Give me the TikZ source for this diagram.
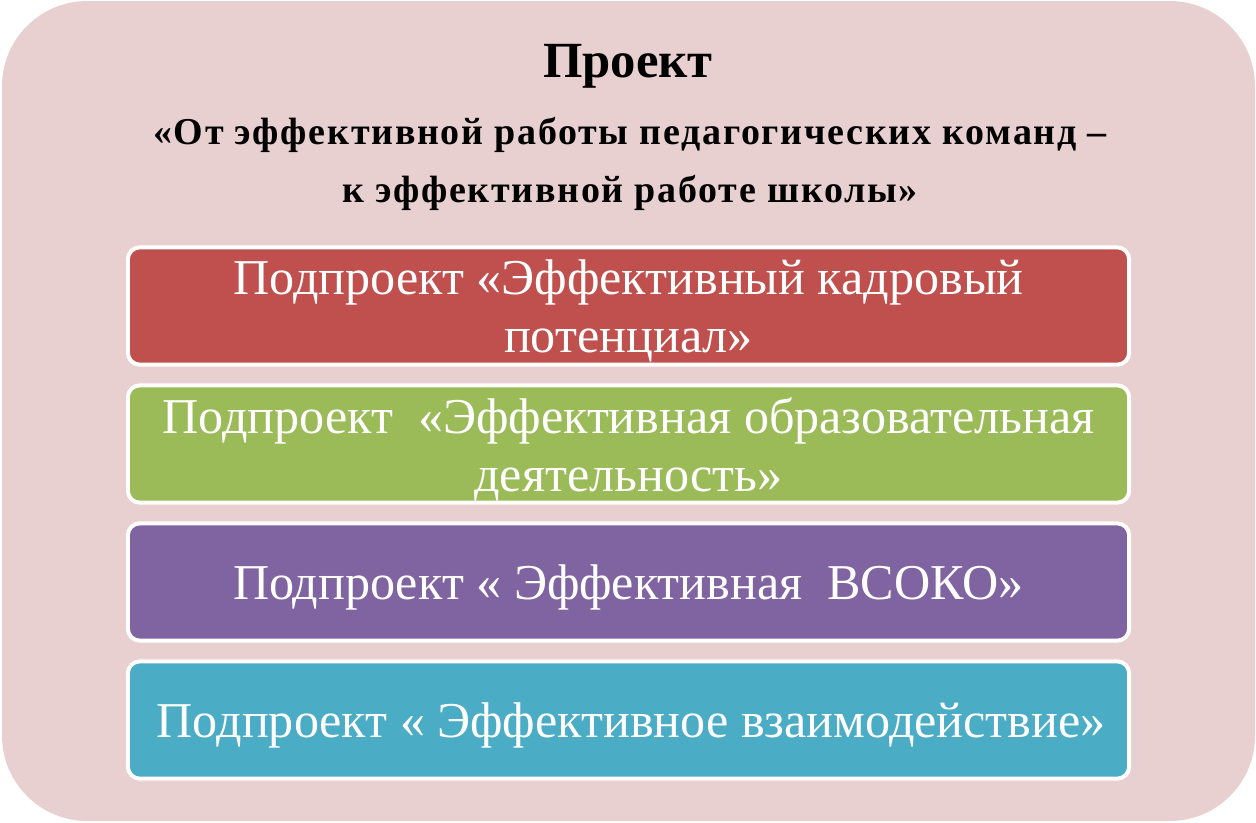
\documentclass[tikz,border=0pt]{standalone}
\usepackage{fontspec}
\setmainfont{Liberation Serif}
\newfontfamily\subtitlefont[LetterSpace=4.5]{Liberation Serif}
\definecolor{bgpink}{HTML}{E8CFD0}
\definecolor{subred}{HTML}{C0504D}
\definecolor{subgreen}{HTML}{9BBB59}
\definecolor{subpurple}{HTML}{8064A2}
\definecolor{subcyan}{HTML}{4BACC6}
\begin{document}
\begin{tikzpicture}[x=0.75pt,y=-0.75pt,
  subbox/.style={draw=white,line width=3pt,rounded corners=9pt,
    minimum width=751pt,minimum height=88pt,inner sep=0pt},
  subtext/.style={text=white,align=center,inner sep=0pt,
    font=\fontsize{37.6}{43.5}\selectfont}]
\useasboundingbox (0,0) rectangle (1256,822);
\fill [bgpink,rounded corners=64pt] (2,1) rectangle (1255,821);
% heading
\node [font=\bfseries\fontsize{38}{45}\selectfont] (title) at (628,66.5) {Проект};
\node [font=\subtitlefont\bfseries\fontsize{28.5}{43.9}\selectfont,align=center] (subtitle) at (630,164) {«От эффективной работы педагогических команд –\\к эффективной работе школы»};
% subprojects
\node [subbox,fill=subred] (staff) at (628.5,306) {};
\node [subbox,fill=subgreen] (edu) at (628.5,444) {};
\node [subbox,fill=subpurple] (vsoko) at (628.5,582) {};
\node [subbox,fill=subcyan] (inter) at (628.5,720) {};
\node [subtext] (stafftext) at ([yshift=-3.75pt]staff.center) {Подпроект «Эффективный кадровый\\потенциал»};
\node [subtext] (edutext) at ([yshift=-3.75pt]edu.center) {Подпроект~ «Эффективная образовательная\\деятельность»};
\node [subtext] (vsokotext) at ([yshift=-3.75pt]vsoko.center) {Подпроект « Эффективная~ ВСОКО»};
\node [subtext] (intertext) at ([xshift=2pt,yshift=-3.75pt]inter.center) {Подпроект « Эффективное взаимодействие»};
\end{tikzpicture}
\end{document}
